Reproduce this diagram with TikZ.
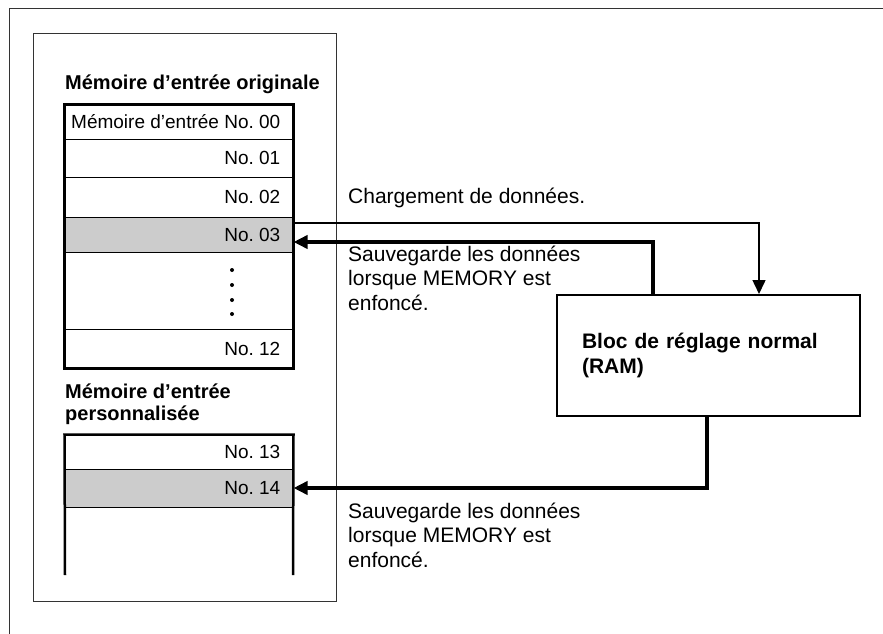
\documentclass[tikz,border=0pt]{standalone}
\usepackage{fontspec}
\setmainfont{Liberation Sans}
\usetikzlibrary{arrows.meta, positioning}

\begin{document}
\begin{tikzpicture}[
        x=1pt, y=-1pt,
        >={Triangle[length=14pt,width=13pt]},
        frame/.style={draw=black!80, line width=1pt},
        lbl/.style={anchor=east, xshift=-13pt, inner sep=0pt,
            font=\fontsize{19}{22}\selectfont\frenchspacing},
        cell/.style={draw, line width=1pt, minimum width=228pt, label={[lbl]east:#1}},
        hot/.style={cell=#1, fill=gray!40},
        tbl/.style={line width=2.5pt},
        title/.style={inner sep=0pt, align=left, font=\fontsize{20}{22}\bfseries\selectfont},
        note/.style={inner sep=0pt, align=left, font=\fontsize{21}{24.5}\selectfont},
        ram/.style={draw, line width=2pt, minimum width=303pt, minimum height=121pt,
            inner xsep=25pt, text width=253pt, align=left,
            font=\fontsize{21}{25}\bfseries\selectfont},
        load/.style={->, line width=1.5pt},
        save/.style={->, line width=4.5pt}
    ]
    \useasboundingbox (0,0) rectangle (883,634);

    % frames
    \draw[frame] (9,634) -- (9,9) -- (883,9);
    \draw[frame] (33,34) rectangle (336,601);

    % original input memories
    \node[title, anchor=base west] (orig) at (65,89) {Mémoire d'entrée originale};
    \node[cell=Mémoire d'entrée No. 00, minimum height=34pt] (r00) at (179,122) {};
    \node[cell=No. 01, minimum height=38pt] (r01) at (179,158) {};
    \node[cell=No. 02, minimum height=40pt] (r02) at (179,197) {};
    \node[hot=No. 03, minimum height=35pt] (r03) at (179,234.5) {};
    \node[cell=No. 12, minimum height=39pt] (r12) at (179,348.5) {};
    \foreach \y in {270,285,300,314}
        \fill (232,\y) circle (2pt);
    \draw[tbl] (r00.north west) rectangle (r12.south east);

    % user input memories (base = last line)
    \node[title, anchor=base west] (user) at (65,420) {Mémoire d'entrée\\personnalisée};
    \node[cell=No. 13, minimum height=34pt] (r13) at (179,452) {};
    \node[hot=No. 14, minimum height=38pt] (r14) at (179,488) {};
    \draw[tbl] (65,575) -- (r13.north west) -- (r13.north east) -- (293,575);

    % setting block
    \node[ram] (ram) at (708.5,355.5) {Bloc de réglage normal\\(RAM)};

    % transfers
    \draw[load] ([yshift=11.5pt]r03.east) -| ([xshift=50.5pt]ram.north);
    \draw[save] ([xshift=-55.5pt]ram.north) |- ([yshift=-7.5pt]r03.east);
    \draw[save] ([xshift=-1.5pt]ram.south) |- (r14.east);

    \node[note, anchor=base west] (chg) at (348,203) {Chargement de données.};
    \node[note, anchor=base west] (sav1) at (348,310)
        {Sauvegarde les données\\lorsque MEMORY est\\enfoncé.};
    \node[note, anchor=base west] (sav2) at (348,567)
        {Sauvegarde les données\\lorsque MEMORY est\\enfoncé.};
\end{tikzpicture}
\end{document}
